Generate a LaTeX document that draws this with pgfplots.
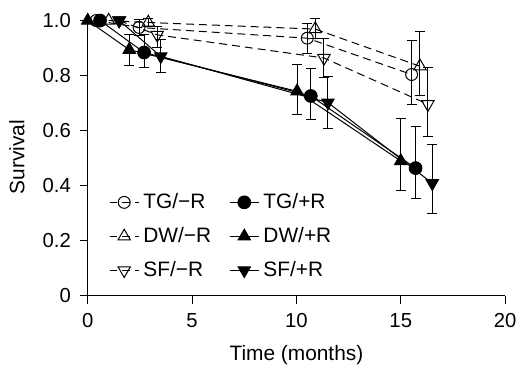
\documentclass[border=0pt]{standalone}
\usepackage{pgfplots}
\pgfplotsset{compat=1.18}
\usepackage{fontspec}
\setmainfont{Liberation Sans}
\begin{document}
\begin{tikzpicture}
\begin{axis}[
  scale only axis,
  width=210pt, height=138.5pt,
  xmin=0, xmax=20, ymin=0, ymax=1,
  clip=false,
  axis x line*=bottom, axis y line*=left,
  axis line style={-, line width=0.5pt},
  tick align=outside, major tick length=4pt,
  tick style={black, line width=0.5pt},
  xtick={0,5,10,15,20},
  ytick={0,0.2,0.4,0.6,0.8,1.0},
  yticklabels={0,0.2,0.4,0.6,0.8,1.0},
  /pgf/number format/assume math mode=true,
  font=\fontsize{10.5}{12}\selectfont,
  tick label style={font=\fontsize{10.2}{12}\selectfont},
  xticklabel style={yshift=-1.5pt},
  yticklabel style={xshift=-1pt},
  xlabel={Time (months)},
  ylabel={Survival},
  label style={font=\fontsize{10.5}{12}\selectfont},
  xlabel style={at={(axis description cs:0.5,-0.2137)}, anchor=center},
  ylabel style={at={(axis description cs:-0.1698,0.504)}, anchor=center, rotate=0},
  legend columns=2,
  legend style={at={(axis cs:1.0,0.216)}, anchor=west, draw=none, fill=none,
    font=\fontsize{10.5}{12}\selectfont, row sep=4pt, inner sep=0pt,
    /tikz/every even column/.append style={column sep=7pt}},
  legend cell align=left,
  legend image code/.code={\draw[mark repeat=2,mark phase=2] plot coordinates {(0cm,0cm) (0.26cm,0cm) (0.52cm,0cm)};},
  error bars/y dir=both, error bars/y explicit,
  error bars/error mark=-,
  error bars/error mark options={rotate=90, mark size=2.5pt, line width=0.5pt, black, solid},
  error bars/error bar style={line width=0.5pt, black, solid},
]
% TG/-R
\addplot[black, line width=0.5pt, dash pattern=on 4pt off 2.5pt, mark=o, mark size=3pt, mark options={solid, fill=white}]
 coordinates {(0.4,1.0) (2.46,0.975) += (0,0.03) -= (0,0.03) (10.52,0.936) += (0,0.055) -= (0,0.054) (15.52,0.804) += (0,0.124) -= (0,0.108)};
\addlegendentry{TG/−R}
% TG/+R
\addplot[black, line width=0.5pt, mark=*, mark size=3.2pt, mark options={solid, fill=black}]
 coordinates {(0.59,1.0) (2.7,0.884) += (0,0.067) -= (0,0.056) (10.69,0.726) += (0,0.10) -= (0,0.087) (15.71,0.464) += (0,0.15) -= (0,0.111)};
\addlegendentry{TG/+R}
% DW/-R
\addplot[black, line width=0.5pt, dash pattern=on 4pt off 2.5pt, mark=triangle, mark size=3.6pt, mark options={solid, fill=white}]
 coordinates {(1.0,1.0) (2.9,0.993) += (0,0.015) -= (0,0.015) (10.9,0.969) += (0,0.04) -= (0,0.033) (15.92,0.834) += (0,0.126) -= (0,0.106)};
\addlegendentry{DW/−R}
% DW/+R
\addplot[black, line width=0.5pt, mark=triangle*, mark size=3.6pt, mark options={solid, fill=black}]
 coordinates {(0,1.0) (1.99,0.894) += (0,0.057) -= (0,0.058) (10.03,0.743) += (0,0.097) -= (0,0.083) (15.0,0.49) += (0,0.155) -= (0,0.108)};
\addlegendentry{DW/+R}
% SF/-R
\addplot[black, line width=0.5pt, dash pattern=on 4pt off 2.5pt, mark=triangle, mark size=3.6pt, mark options={solid, fill=white, rotate=180}]
 coordinates {(1.5,1.0) (3.33,0.948) += (0,0.03) -= (0,0.045) (11.32,0.864) += (0,0.072) -= (0,0.072) (16.3,0.696) += (0,0.134) -= (0,0.117)};
\addlegendentry{SF/−R}
% SF/+R
\addplot[black, line width=0.5pt, mark=triangle*, mark size=3.6pt, mark options={solid, fill=black, rotate=180}]
 coordinates {(1.51,1.0) (3.5,0.87) += (0,0.06) -= (0,0.06) (11.51,0.702) += (0,0.094) -= (0,0.093) (16.51,0.409) += (0,0.142) -= (0,0.11)};
\addlegendentry{SF/+R}
\end{axis}
\path (-44.15pt,-36.65pt) rectangle (217.35pt,148.85pt);
\end{tikzpicture}
\end{document}
